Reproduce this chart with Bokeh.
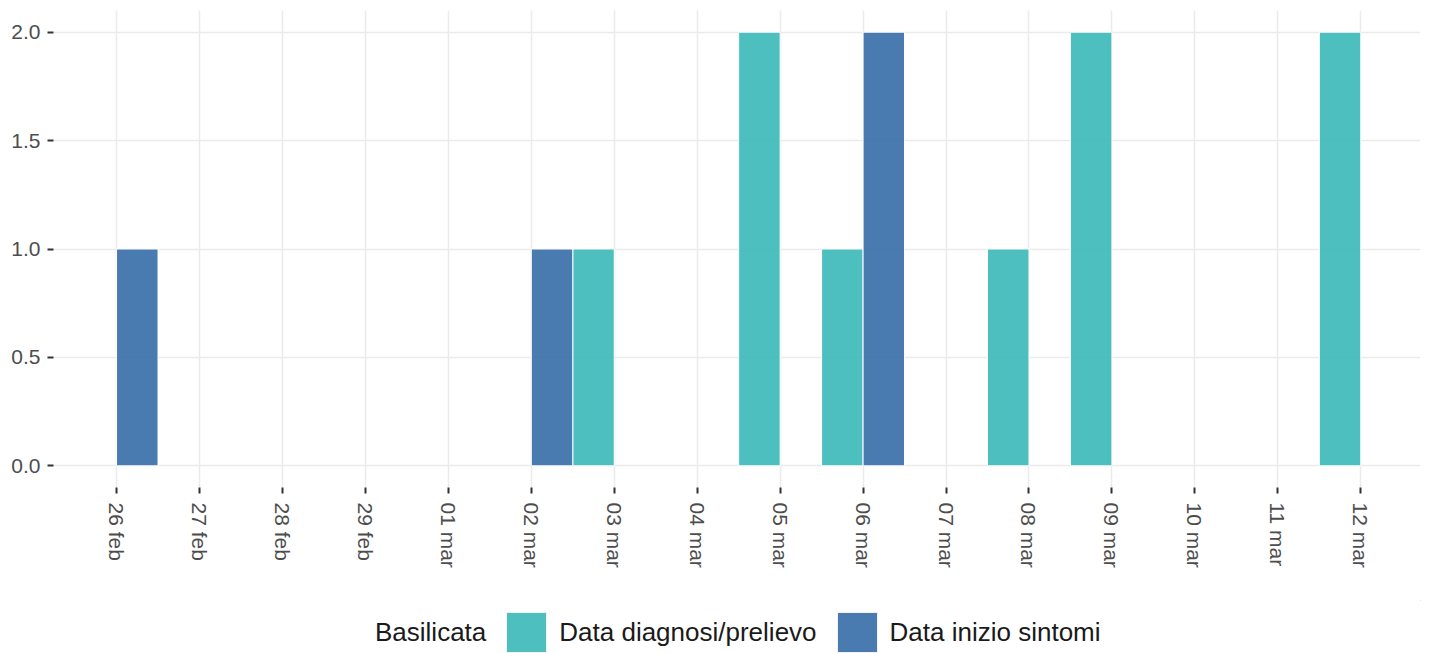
from bokeh.plotting import figure
from bokeh.layouts import column
from bokeh.models import (ColumnDataSource, Range1d, FixedTicker, Legend, LegendItem,
                          NumeralTickFormatter)
from bokeh.transform import dodge
from bokeh.embed import file_html
from bokeh.resources import INLINE

dates = ["26 feb", "27 feb", "28 feb", "29 feb", "01 mar", "02 mar", "03 mar", "04 mar",
         "05 mar", "06 mar", "07 mar", "08 mar", "09 mar", "10 mar", "11 mar", "12 mar"]
diagnosi = [0, 0, 0, 0, 0, 0, 1, 0, 2, 1, 0, 1, 2, 0, 0, 2]
sintomi = [1, 0, 0, 0, 0, 1, 0, 0, 0, 2, 0, 0, 0, 0, 0, 0]
y_ticks = [0, 0.5, 1, 1.5, 2]
region = "Basilicata"
series_names = ["Data diagnosi/prelievo", "Data inizio sintomi"]

day = list(range(len(dates)))
src_d = ColumnDataSource(dict(day=[d for d, v in zip(day, diagnosi) if v > 0],
                              val=[v for v in diagnosi if v > 0]))
src_s = ColumnDataSource(dict(day=[d for d, v in zip(day, sintomi) if v > 0],
                              val=[v for v in sintomi if v > 0]))

FONT = "Liberation Sans"
TEAL = "#3AB8B8"
BLUE = "#366DA7"

p = figure(width=1430, height=600, output_backend="svg", toolbar_location=None,
           x_range=Range1d(-0.76, 15.72), y_range=Range1d(-0.1, 2.1),
           min_border_left=53, min_border_right=10, min_border_top=10, min_border_bottom=113)
p.outline_line_color = None

p.vbar(x=dodge("day", -0.25, range=p.x_range), top="val", bottom=0, width=0.5,
       source=src_d, fill_color=TEAL, fill_alpha=0.9, line_color="white", line_width=1)
p.vbar(x=dodge("day", 0.25, range=p.x_range), top="val", bottom=0, width=0.5,
       source=src_s, fill_color=BLUE, fill_alpha=0.9, line_color="white", line_width=1)

# axes
p.xaxis.ticker = FixedTicker(ticks=day)
p.xaxis.major_label_overrides = {d: lab for d, lab in zip(day, dates)}
p.xaxis.major_label_orientation = "vertical"
p.yaxis.ticker = FixedTicker(ticks=y_ticks)
p.yaxis.formatter = NumeralTickFormatter(format="0.0")
for ax in (p.xaxis[0], p.yaxis[0]):
    ax.axis_line_color = None
    ax.minor_tick_line_color = None
    ax.major_tick_in = 0
    ax.major_tick_out = 6
    ax.major_tick_line_color = "#333333"
    ax.major_tick_line_width = 2
    ax.major_label_text_font = FONT
    ax.major_label_text_font_size = "21px"
    ax.major_label_text_color = "#4d4d4d"
p.xaxis.major_label_standoff = 9
p.yaxis.major_label_standoff = 7

p.xgrid.ticker = FixedTicker(ticks=day)
p.ygrid.ticker = FixedTicker(ticks=y_ticks)
for g in (p.xgrid[0], p.ygrid[0]):
    g.grid_line_color = "#EBEBEB"
    g.grid_line_width = 1.5
    g.minor_grid_line_color = None

# legend strip below the chart (its ranges keep the key renderers out of view)
lg = figure(width=1430, height=53, output_backend="svg", toolbar_location=None,
            x_range=Range1d(-20, -19), y_range=Range1d(-20, -19),
            x_axis_location=None, y_axis_location=None, min_border=0)
lg.outline_line_color = None
lg.grid.visible = False
k_blank = lg.vbar(x="day", top="val", width=0.5, source=src_d, fill_alpha=0, line_alpha=0)
k_d = lg.vbar(x="day", top="val", width=0.5, source=src_d, fill_color=TEAL, fill_alpha=0.9,
              line_color="#F2F2F2", line_width=1)
k_s = lg.vbar(x="day", top="val", width=0.5, source=src_s, fill_color=BLUE, fill_alpha=0.9,
              line_color="#F2F2F2", line_width=1)

legend = Legend(items=[LegendItem(label=region, renderers=[k_blank]),
                       LegendItem(label=series_names[0], renderers=[k_d]),
                       LegendItem(label=series_names[1], renderers=[k_s])],
                orientation="horizontal", location=(264, -4),
                glyph_width=50, glyph_height=50, label_standoff=8, spacing=15,
                padding=0, margin=0, border_line_color=None, background_fill_alpha=0,
                label_text_font=FONT, label_text_font_size="26px",
                label_text_color="#1a1a1a", label_height=50)
lg.add_layout(legend)

open("out.html", "w").write(file_html(column(p, lg, spacing=0), INLINE))
